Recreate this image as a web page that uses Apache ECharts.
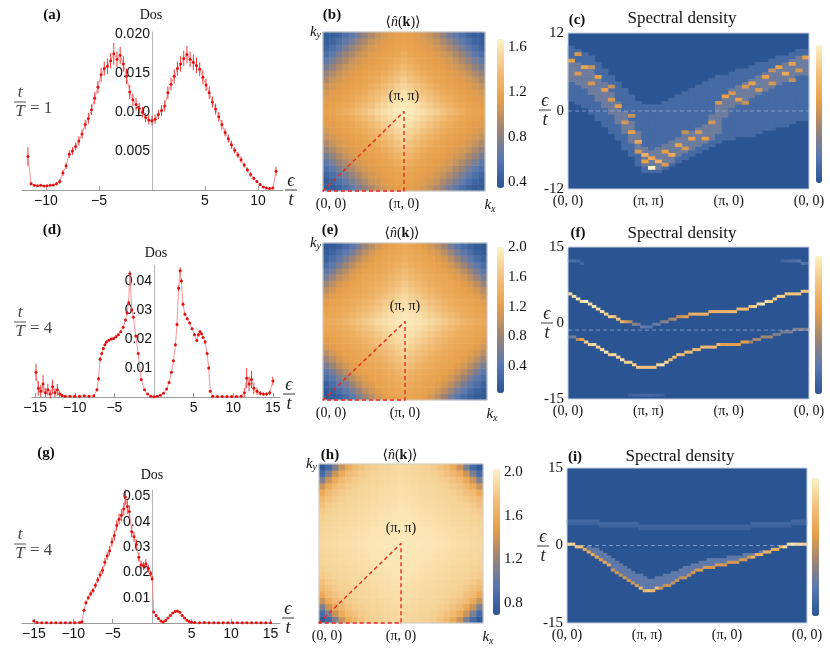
<!DOCTYPE html>
<html>
<head>
<meta charset="utf-8">
<script src="https://cdn.jsdelivr.net/npm/echarts@6/dist/echarts.min.js"></script>
<style>
html,body{margin:0;padding:0;background:#fff}
#main{width:830px;height:654px}
</style>
</head>
<body>
<div id="main"></div>
<script>
// ---------- DOS panels: [eps/t, dos, error] ----------
var dosA = [
  [-11.7,.0043,.0012],[-11.4,.0008,.0002],[-11.1,.0006,.0001],[-10.8,.00055,.0001],[-10.5,.0006,.0001],
  [-10.2,.0005,.0001],[-9.9,.00055,.0001],[-9.6,.0006,.0001],[-9.3,.00065,.0001],[-9.0,.0008,.0002],
  [-8.7,.0011,.0003],[-8.4,.0022,.0004],[-8.1,.0031,.0004],[-7.8,.0046,.0005],[-7.5,.005,.0005],
  [-7.2,.0056,.0005],[-6.9,.0063,.0006],[-6.6,.0072,.0006],[-6.3,.0084,.0006],[-6.0,.0092,.0007],
  [-5.7,.0103,.0007],[-5.4,.0118,.0008],[-5.1,.0132,.0008],[-4.8,.0148,.0009],[-4.5,.0156,.0009],
  [-4.2,.0159,.001],[-3.9,.0166,.001],[-3.6,.0175,.0014],[-3.3,.0168,.001],[-3.0,.0173,.0011],
  [-2.7,.0162,.001],[-2.4,.0146,.001],[-2.1,.0126,.0009],[-1.8,.0116,.0008],[-1.5,.011,.0008],
  [-1.2,.0105,.0007],[-0.9,.01,.0007],[-0.6,.0093,.0006],[-0.3,.009,.0006],[0,.0089,.0006],
  [0.3,.0091,.0006],[0.6,.0097,.0006],[0.9,.0102,.0007],[1.2,.0108,.0007],[1.5,.0125,.0008],
  [1.8,.0136,.0008],[2.1,.0146,.0009],[2.4,.0156,.0009],[2.7,.0162,.001],[3.0,.0169,.001],
  [3.3,.0174,.0011],[3.6,.0168,.001],[3.9,.0164,.001],[4.2,.016,.001],[4.5,.0155,.0009],
  [4.8,.0145,.0009],[5.1,.0135,.0008],[5.4,.0125,.0008],[5.7,.0113,.0007],[6.0,.0104,.0007],
  [6.3,.0094,.0006],[6.6,.0084,.0006],[6.9,.0074,.0005],[7.2,.0066,.0005],[7.5,.0058,.0005],
  [7.8,.0051,.0004],[8.1,.0045,.0004],[8.4,.0039,.0004],[8.7,.0032,.0003],[9.0,.0026,.0003],
  [9.3,.002,.0003],[9.6,.0015,.0002],[9.9,.0011,.0002],[10.2,.0007,.0002],[10.5,.0004,.0001],
  [10.8,.00025,.0001],[11.1,.0002,.0001],[11.4,.00025,.0001],[11.7,.0024,.0006]
];
var dosD = [
  [-14.9,.0085,.003],[-14.6,.003,.0025],[-14.3,.002,.002],[-14.0,.0045,.003],[-13.7,.0015,.0015],
  [-13.4,.0025,.002],[-13.1,.001,.0015],[-12.8,.0035,.0025],[-12.5,.0015,.0015],[-12.2,.0025,.002],
  [-11.9,.001,.001],[-11.6,.0005,.0005],[-11.2,.0003,.0002],[-10.6,.0003,.0001],[-10.0,.0003,.0001],
  [-9.4,.0003,.0001],[-8.8,.0004,.0001],[-8.2,.0003,.0001],[-7.6,.0004,.0002],[-7.2,.0025,.0004],
  [-7.0,.0063,.0006],[-6.8,.013,.0008],[-6.6,.015,.0006],[-6.4,.0167,.0005],[-6.2,.018,.0005],
  [-6.0,.019,.0005],[-5.7,.0196,.0004],[-5.4,.02,.0004],[-5.1,.0202,.0004],[-4.8,.0208,.0004],
  [-4.5,.0215,.0004],[-4.2,.0225,.0004],[-3.9,.024,.0005],[-3.6,.0265,.0005],[-3.4,.029,.0006],
  [-3.2,.0325,.0008],[-3.05,.0425,.001],[-2.8,.03,.0008],[-2.6,.0275,.0006],[-2.3,.021,.0005],
  [-2.0,.015,.0004],[-1.6,.006,.0003],[-1.2,.0025,.0002],[-0.8,.001,.0001],[-0.4,.0003,.0001],
  [0,.0001,.0001],[0.4,.0003,.0001],[0.8,.0006,.0001],[1.2,.0013,.0002],[1.6,.0028,.0002],
  [1.9,.005,.0003],[2.2,.0085,.0004],[2.45,.0125,.0005],[2.7,.018,.0006],[2.9,.025,.0007],
  [3.1,.0375,.001],[3.3,.0435,.0012],[3.45,.04,.001],[3.65,.032,.0008],[3.9,.0285,.0006],
  [4.2,.027,.0005],[4.5,.0255,.0005],[4.8,.0235,.0005],[5.1,.0215,.0005],[5.4,.0195,.0006],
  [5.6,.0215,.0006],[5.8,.0225,.0005],[6.0,.0218,.0005],[6.2,.0205,.0005],[6.45,.019,.0006],
  [6.7,.015,.0006],[6.9,.01,.0006],[7.1,.002,.0004],[7.4,.0003,.0001],[8.0,.0002,.0001],
  [8.6,.0002,.0001],[9.2,.0002,.0001],[9.8,.0002,.0001],[10.4,.0002,.0001],[11.0,.0003,.0002],
  [11.4,.0015,.0015],[11.7,.0065,.0035],[12.0,.0045,.0025],[12.3,.006,.003],[12.6,.003,.002],
  [13.0,.002,.0012],[13.4,.0013,.0008],[13.8,.001,.0005],[14.2,.001,.0005],[14.6,.0015,.0008],
  [15.0,.0055,.0015]
];
var dosG = [
  [-15.0,.0008,.0003],[-14.6,.0002,.0001],[-14.0,.0001,.0001],[-13.4,.0001,.0001],[-12.8,.0001,.0001],
  [-12.2,.0001,.0001],[-11.6,.0001,.0001],[-11.0,.0001,.0001],[-10.4,.0001,.0001],[-9.8,.0001,.0001],
  [-9.2,.0002,.0001],[-8.9,.0005,.0002],[-8.65,.005,.0006],[-8.4,.008,.0008],[-8.1,.01,.0008],
  [-7.8,.0115,.001],[-7.5,.0128,.001],[-7.2,.0149,.0012],[-6.9,.017,.0012],[-6.6,.019,.0014],
  [-6.3,.0208,.0014],[-6.0,.024,.0016],[-5.7,.0265,.0016],[-5.4,.0285,.0018],[-5.1,.032,.0018],
  [-4.8,.0345,.002],[-4.5,.0385,.002],[-4.2,.041,.0022],[-3.9,.0425,.0024],[-3.6,.045,.0025],
  [-3.4,.0497,.003],[-3.15,.046,.0028],[-2.9,.044,.0026],[-2.6,.036,.0022],[-2.3,.034,.002],
  [-2.0,.031,.002],[-1.7,.026,.0018],[-1.4,.023,.0016],[-1.1,.0225,.0016],[-0.8,.0234,.0018],
  [-0.5,.0215,.0016],[-0.2,.0195,.0012],[0.0,.0175,.001],[0.2,.0043,.0004],[0.5,.003,.0003],
  [0.8,.0018,.0002],[1.1,.0008,.0001],[1.4,.0004,.0001],[1.7,.001,.0001],[2.0,.002,.0002],
  [2.3,.003,.0002],[2.6,.0039,.0002],[2.9,.0045,.0002],[3.2,.0047,.0002],[3.5,.0042,.0002],
  [3.8,.003,.0002],[4.1,.002,.0001],[4.4,.0011,.0001],[4.7,.0006,.0001],[5.0,.0003,.0001],
  [5.4,.00015,.0001],[6.0,.0001,.0001],[6.6,.0002,.0001],[7.2,.0001,.0001],[7.8,.0001,.0001],
  [8.4,.0001,.0001],[9.0,.0001,.0001],[9.6,.0001,.0001],[10.2,.0001,.0001],[10.8,.0001,.0001],
  [11.4,.0001,.0001],[12.0,.0001,.0001],[12.6,.0001,.0001],[13.2,.0001,.0001],[13.8,.0001,.0001],
  [14.4,.0001,.0001],[15.0,.0001,.0001]
];

// ---------- <n(k)> : one quadrant, kx,ky = 0..pi in steps of pi/12 ----------
var nkB = [
  [0.40,0.42,0.47,0.55,0.64,0.74,0.84,0.93,1.01,1.07,1.11,1.13,1.15],
  [0.42,0.47,0.55,0.64,0.74,0.84,0.93,1.01,1.07,1.11,1.13,1.15,1.17],
  [0.47,0.55,0.64,0.74,0.84,0.93,1.01,1.07,1.11,1.13,1.15,1.17,1.20],
  [0.55,0.64,0.74,0.84,0.93,1.01,1.07,1.11,1.13,1.15,1.17,1.20,1.24],
  [0.64,0.74,0.84,0.93,1.01,1.07,1.11,1.13,1.15,1.17,1.20,1.24,1.29],
  [0.74,0.84,0.93,1.01,1.07,1.11,1.13,1.15,1.17,1.20,1.24,1.29,1.34],
  [0.84,0.93,1.01,1.07,1.11,1.13,1.15,1.17,1.20,1.24,1.29,1.34,1.40],
  [0.93,1.01,1.07,1.11,1.13,1.15,1.17,1.20,1.24,1.29,1.34,1.40,1.46],
  [1.01,1.07,1.11,1.13,1.15,1.17,1.20,1.24,1.29,1.34,1.40,1.46,1.51],
  [1.07,1.11,1.13,1.15,1.17,1.20,1.24,1.29,1.34,1.40,1.46,1.51,1.56],
  [1.11,1.13,1.15,1.17,1.20,1.24,1.29,1.34,1.40,1.46,1.51,1.56,1.60],
  [1.13,1.15,1.17,1.20,1.24,1.29,1.34,1.40,1.46,1.51,1.56,1.60,1.63],
  [1.15,1.17,1.20,1.24,1.29,1.34,1.40,1.46,1.51,1.56,1.60,1.63,1.65]
];
var nkE = [
  [0.08,0.12,0.20,0.32,0.46,0.62,0.80,0.97,1.10,1.19,1.24,1.27,1.30],
  [0.12,0.20,0.32,0.46,0.62,0.80,0.97,1.10,1.19,1.24,1.27,1.30,1.34],
  [0.20,0.32,0.46,0.62,0.80,0.97,1.10,1.19,1.24,1.27,1.30,1.34,1.39],
  [0.32,0.46,0.62,0.80,0.97,1.10,1.19,1.24,1.27,1.30,1.34,1.39,1.45],
  [0.46,0.62,0.80,0.97,1.10,1.19,1.24,1.27,1.30,1.34,1.39,1.45,1.52],
  [0.62,0.80,0.97,1.10,1.19,1.24,1.27,1.30,1.34,1.39,1.45,1.52,1.59],
  [0.80,0.97,1.10,1.19,1.24,1.27,1.30,1.34,1.39,1.45,1.52,1.59,1.66],
  [0.97,1.10,1.19,1.24,1.27,1.30,1.34,1.39,1.45,1.52,1.59,1.66,1.73],
  [1.10,1.19,1.24,1.27,1.30,1.34,1.39,1.45,1.52,1.59,1.66,1.73,1.79],
  [1.19,1.24,1.27,1.30,1.34,1.39,1.45,1.52,1.59,1.66,1.73,1.79,1.84],
  [1.24,1.27,1.30,1.34,1.39,1.45,1.52,1.59,1.66,1.73,1.79,1.84,1.88],
  [1.27,1.30,1.34,1.39,1.45,1.52,1.59,1.66,1.73,1.79,1.84,1.88,1.91],
  [1.30,1.34,1.39,1.45,1.52,1.59,1.66,1.73,1.79,1.84,1.88,1.91,1.93]
];
var nkH = [
  [0.72,0.85,1.10,1.38,1.58,1.70,1.77,1.81,1.84,1.86,1.87,1.88,1.89],
  [0.85,1.10,1.38,1.58,1.70,1.77,1.81,1.84,1.86,1.87,1.88,1.89,1.90],
  [1.10,1.38,1.58,1.70,1.77,1.81,1.84,1.86,1.87,1.88,1.89,1.90,1.91],
  [1.38,1.58,1.70,1.77,1.81,1.84,1.86,1.87,1.88,1.89,1.90,1.91,1.92],
  [1.58,1.70,1.77,1.81,1.84,1.86,1.87,1.88,1.89,1.90,1.91,1.92,1.93],
  [1.70,1.77,1.81,1.84,1.86,1.87,1.88,1.89,1.90,1.91,1.92,1.93,1.94],
  [1.77,1.81,1.84,1.86,1.87,1.88,1.89,1.90,1.91,1.92,1.93,1.94,1.95],
  [1.81,1.84,1.86,1.87,1.88,1.89,1.90,1.91,1.92,1.93,1.94,1.95,1.96],
  [1.84,1.86,1.87,1.88,1.89,1.90,1.91,1.92,1.93,1.94,1.95,1.96,1.96],
  [1.86,1.87,1.88,1.89,1.90,1.91,1.92,1.93,1.94,1.95,1.96,1.96,1.97],
  [1.87,1.88,1.89,1.90,1.91,1.92,1.93,1.94,1.95,1.96,1.96,1.97,1.97],
  [1.88,1.89,1.90,1.91,1.92,1.93,1.94,1.95,1.96,1.96,1.97,1.97,1.98],
  [1.89,1.90,1.91,1.92,1.93,1.94,1.95,1.96,1.96,1.97,1.97,1.98,1.98]
];

// ---------- spectral density (c): band edges per path column (36 cols) ----------
var cTop = [9.8,9.5,9.0,8.3,7.5,6.5,5.5,4.5,3.5,2.5,1.5,0.8,
            0.8,1.0,1.5,2.0,2.5,3.0,3.5,4.0,4.5,5.0,5.3,5.6,
            6.0,6.3,6.6,7.0,7.3,7.6,8.0,8.3,8.6,9.0,9.3,9.6];
var cBot = [1.5,1.0,0.3,-0.5,-1.5,-2.5,-3.5,-4.5,-5.8,-7.0,-8.5,-9.3,
            -9.5,-9.3,-9.0,-8.5,-8.0,-7.5,-7.0,-6.5,-6.0,-5.5,-5.0,-4.7,
            -4.4,-4.2,-4.0,-3.8,-3.5,-3.2,-3.0,-2.7,-2.4,-2.0,-1.7,-1.4];
var cCoreTop = [8.0,7.5,7.0,6.5,5.5,4.5,3.0,1.5,0.0,-1.5,-3.0,-5.5,
                -6.0,-5.5,-5.0,-4.5,-4.0,-3.5,-3.0,-2.5,-2.0,-0.5,1.0,2.5,
                3.5,4.0,4.5,5.0,5.5,6.0,6.5,7.0,7.5,8.0,8.3,8.5];
var cCoreBot = [4.5,4.0,3.5,2.5,1.5,0.5,-0.5,-2.0,-3.5,-5.0,-6.5,-8.5,
                -9.0,-8.8,-8.3,-7.8,-7.2,-6.5,-6.0,-5.5,-5.0,-4.5,-3.5,-1.0,
                0.5,1.0,1.5,2.0,2.5,3.0,3.5,4.0,4.5,5.0,5.3,5.5];
var cSpeck = [[0,7.5,.6],[1,5.5,.55],[2,6.5,.65],[3,4.0,.55],[4,5.0,.6],[5,3.0,.6],[6,1.5,.55],
  [7,0.5,.6],[8,-2.0,.55],[9,-3.5,.6],[10,-5.0,.65],[10,-6.5,.55],[11,-7.0,.7],[11,-8.0,.6],
  [12,-8.75,1.0],[12,-7.5,.65],[13,-8.0,.7],[14,-6.5,.6],[15,-7.0,.65],[16,-5.5,.6],[17,-6.0,.55],
  [18,-4.5,.6],[19,-3.5,.55],[20,-4.5,.6],[21,-2.0,.55],[22,1.0,.55],[23,2.0,.6],[24,2.5,.55],
  [25,1.5,.6],[26,3.5,.55],[27,4.0,.6],[28,3.0,.55],[29,5.0,.6],[30,4.0,.55],[31,6.5,.6],
  [32,5.5,.65],[33,7.0,.6],[34,6.0,.55],[35,8.0,.6],[1,8.5,.55],[3,6.5,.5],[6,3.5,.5],
  [9,-1.0,.5],[14,-8.5,.55],[17,-3.5,.5],[26,1.0,.5],[30,6.0,.5],[33,4.5,.5]];

// ---------- spectral density (f): two bands, 60 cols ----------
var fUp = [5.6,5.2,4.8,4.4,4.1,3.7,3.2,2.8,2.3,1.9,
           1.4,1.0,0.7,0.4,0.2,0.0,-0.2,-0.4,-0.6,-0.7,
           -0.6,-0.4,-0.2,0.0,0.3,0.6,0.8,1.0,1.2,1.3,
           1.5,1.6,1.7,1.8,1.9,2.0,2.1,2.2,2.2,2.3,
           2.3,2.4,2.5,2.6,2.7,3.0,3.3,3.6,3.9,4.1,
           4.4,4.7,5.0,5.3,5.5,5.7,5.8,5.9,6.0,6.1];
var fUpI = [0.9,0.9,0.95,0.9,1.0,0.9,0.95,0.9,0.9,0.85,
            0.85,0.8,0.8,0.7,0.55,0.45,0.35,0.3,0.25,0.2,
            0.2,0.22,0.25,0.3,0.35,0.4,0.45,0.5,0.55,0.6,
            0.65,0.7,0.7,0.7,0.7,0.7,0.72,0.72,0.72,0.72,
            0.75,0.75,0.75,0.75,0.75,0.8,0.85,0.9,0.95,0.9,
            0.85,0.85,0.85,0.85,0.8,0.8,0.8,0.8,0.8,0.8];
var fLo = [-2.7,-3.0,-3.2,-3.4,-3.8,-4.2,-4.5,-4.9,-5.3,-5.7,
           -6.1,-6.5,-6.9,-7.3,-7.7,-8.0,-8.3,-8.6,-8.75,-8.85,
           -8.9,-8.7,-8.5,-8.2,-7.8,-7.3,-6.9,-6.5,-6.2,-5.9,
           -5.6,-5.3,-5.1,-4.9,-4.8,-4.7,-4.6,-4.5,-4.5,-4.4,
           -4.3,-4.2,-4.1,-4.0,-3.8,-3.6,-3.4,-3.2,-3.0,-2.8,
           -2.6,-2.4,-2.2,-2.0,-1.8,-1.6,-1.4,-1.3,-1.2,-1.1];
var fLoI = [0.2,0.3,0.45,0.6,0.85,0.85,0.9,0.85,0.9,0.95,
            0.85,0.9,0.85,0.9,0.85,0.85,0.85,0.8,0.8,0.8,
            0.8,0.8,0.85,0.95,0.85,0.75,0.75,0.8,0.75,0.75,
            0.75,0.75,0.75,0.75,0.75,0.75,0.75,0.75,0.6,0.6,
            0.6,0.6,0.6,0.6,0.6,0.4,0.4,0.4,0.4,0.4,
            0.4,0.3,0.3,0.3,0.3,0.3,0.3,0.3,0.3,0.3];
var fExtra = [[0,12.2,.15],[1,12.0,.15],[2,12.0,.12],[3,11.8,.1],[53,12.4,.1],[54,12.2,.12],
  [55,12.2,.15],[56,12.0,.15],[57,12.0,.18],[58,11.8,.18],[59,11.8,.15],[15,-14.3,.08],
  [16,-14.3,.1],[17,-14.3,.1],[18,-14.3,.12],[19,-14.3,.12],[20,-14.3,.12],[21,-14.3,.1],
  [22,-14.3,.1],[23,-14.3,.08]];

// ---------- spectral density (i): one band + diffuse shoulder, 60 cols ----------
var iBand = [0.2,0.1,-0.1,-0.4,-0.8,-1.2,-1.7,-2.2,-2.7,-3.3,
             -3.9,-4.6,-5.3,-5.9,-6.4,-6.9,-7.4,-7.9,-8.3,-8.6,
             -8.75,-8.7,-8.5,-8.2,-7.9,-7.6,-7.2,-6.9,-6.5,-6.1,
             -5.7,-5.3,-5.0,-4.8,-4.5,-4.3,-4.1,-3.95,-3.8,-3.65,
             -3.5,-3.3,-3.1,-2.9,-2.6,-2.4,-2.2,-1.9,-1.7,-1.5,
             -1.2,-1.0,-0.8,-0.5,-0.2,0.0,0.1,0.2,0.3,0.4];
var iBandI = [0.85,0.85,0.8,0.8,0.65,0.65,0.65,0.65,0.6,0.65,
              0.65,0.55,0.55,0.5,0.55,0.55,0.55,0.55,0.75,0.75,
              0.8,0.75,0.75,0.5,0.5,0.5,0.5,0.5,0.5,0.5,
              0.5,0.55,0.55,0.55,0.55,0.55,0.55,0.55,0.55,0.55,
              0.55,0.55,0.55,0.55,0.55,0.55,0.7,0.7,0.7,0.7,
              0.7,0.7,0.7,0.7,0.9,0.9,0.95,0.9,0.9,0.85];
var iFuzzTop = [0.2,0.1,-0.1,-0.4,-0.8,-0.5,-0.7,-1.0,-1.3,-1.7,
                -2.1,-2.6,-3.1,-3.6,-4.1,-4.6,-5.1,-5.6,-6.0,-6.4,
                -6.6,-6.6,-6.5,-6.3,-6.0,-5.7,-5.4,-5.1,-4.8,-4.5,
                -4.2,-3.9,-3.6,-3.4,-3.2,-3.0,-2.9,-2.8,-2.7,-2.6,
                -2.5,-2.4,-2.3,-2.2,-2.0,-1.9,-1.8,-1.6,-1.5,-1.4,
                -1.2,-1.0,-0.8,-0.5,-0.2,0.0,0.1,0.2,0.3,0.4];
var iFaint = [4.8,4.8,4.7,4.7,4.6,4.6,4.5,4.5,4.4,4.4,
              4.3,4.3,4.2,4.2,4.1,4.1,4.0,4.0,3.9,3.9,
              3.8,3.8,3.7,3.7,3.6,3.6,3.5,3.5,3.5,3.5,
              3.5,3.5,3.5,3.5,3.5,3.5,3.5,3.6,3.6,3.6,
              3.7,3.7,3.8,3.8,3.9,3.9,4.0,4.0,4.1,4.1,
              4.2,4.2,4.3,4.3,4.4,4.4,4.5,4.5,4.6,4.6];

var pathLabels = ['(0, 0)', '(π, π)', '(π, 0)', '(0, 0)'];
var palette = ['#2b5592', '#5878b0', '#a08572', '#e8a04a', '#f2c27e', '#fdf2c6'];

// ---------- build ----------
var SERIF = '"Liberation Serif","DejaVu Serif",serif';
var SANS = '"Liberation Sans",Arial,sans-serif';
var grids = [], xAxes = [], yAxes = [], series = [], visualMaps = [], graphics = [];

function minus(v) { return v < 0 ? '\u2212' + (-v) : String(v); }
function range(n) { var a = []; for (var k = 0; k < n; k++) a.push(k); return a; }

function addDos(rect, pts, xr, ymax, xTicks, yTicks, dec) {
  var g = grids.length;
  // the vertical axis sits at eps = 0, inside the plot
  var zeroOffset = rect[2] * (0 - xr[0]) / (xr[1] - xr[0]);
  grids.push({left: rect[0], top: rect[1], width: rect[2], height: rect[3]});
  xAxes.push({type: 'value', gridIndex: g, min: xr[0], max: xr[1],
    axisLine: {onZero: false, lineStyle: {color: '#9a9a9a'}},
    axisTick: {customValues: xTicks, inside: true, length: 4, lineStyle: {color: '#9a9a9a'}},
    axisLabel: {customValues: xTicks, formatter: minus, fontFamily: SANS, fontSize: 14, color: '#111', margin: 4},
    splitLine: {show: false}});
  yAxes.push({type: 'value', gridIndex: g, min: 0, max: ymax, position: 'left', offset: -zeroOffset,
    axisLine: {onZero: false, lineStyle: {color: '#b4b4b4'}},
    axisTick: {show: false},
    axisLabel: {customValues: yTicks, formatter: function (v) { return v.toFixed(dec); },
      fontFamily: SANS, fontSize: 14, color: '#111', margin: 2},
    splitLine: {show: false}});
  series.push({type: 'custom', xAxisIndex: g, yAxisIndex: g, data: pts, encode: {x: 0, y: 1},
    silent: true, z: 2, clip: false,
    renderItem: function (params, api) {
      var x = api.value(0), y = api.value(1), e = api.value(2);
      var a = api.coord([x, y - e]), b = api.coord([x, y + e]);
      return {type: 'line', shape: {x1: a[0], y1: a[1], x2: b[0], y2: b[1]},
        style: {stroke: 'rgba(232,20,20,0.85)', lineWidth: 1}};
    }});
  series.push({type: 'line', xAxisIndex: g, yAxisIndex: g, silent: true, z: 3,
    data: pts.map(function (p) { return [p[0], p[1]]; }),
    symbol: 'circle', symbolSize: 3, itemStyle: {color: '#e41010'},
    lineStyle: {color: '#f47a7a', width: 0.8}});
}

function addNk(rect, quad, vr, cb, cbTicks) {
  var n = quad.length, N = 2 * n - 1;
  var g = grids.length;
  grids.push({left: rect[0], top: rect[1], width: rect[2], height: rect[3]});
  xAxes.push({type: 'category', gridIndex: g, data: range(N), show: false});
  yAxes.push({type: 'category', gridIndex: g, data: range(N), show: false});
  var cells = [];
  for (var i = 0; i < N; i++) for (var j = 0; j < N; j++)
    cells.push([j, i, quad[Math.min(i, N - 1 - i)][Math.min(j, N - 1 - j)]]);
  visualMaps.push({type: 'continuous', seriesIndex: series.length, min: vr[0], max: vr[1],
    left: cb[0], top: cb[1], itemWidth: cb[2], itemHeight: cb[3], padding: 0,
    calculable: false, hoverLink: false, inRange: {color: palette}});
  series.push({type: 'heatmap', xAxisIndex: g, yAxisIndex: g, data: cells, silent: true,
    itemStyle: {borderWidth: 0}, emphasis: {disabled: true}});

  var g2 = grids.length;
  grids.push({left: rect[0], top: rect[1], width: rect[2], height: rect[3], show: true, z: 10,
    borderColor: '#cfcfcf', borderWidth: 1, backgroundColor: 'transparent'});
  var rich = {
    o: {fontFamily: SERIF, fontSize: 14, color: '#111', padding: [0, 0, 0, 16]},
    p: {fontFamily: SERIF, fontSize: 14, color: '#111'},
    k: {fontFamily: SERIF, fontSize: 15, fontStyle: 'italic', color: '#111'},
    s: {fontFamily: SERIF, fontSize: 10, fontStyle: 'italic', color: '#111', verticalAlign: 'bottom', padding: [7, 0, 0, 0]},
    kk: {fontFamily: SERIF, fontSize: 15, fontStyle: 'italic', color: '#111', padding: [0, 0, 0, 10]}
  };
  xAxes.push({type: 'value', gridIndex: g2, min: 0, max: 2,
    axisLine: {show: false}, axisTick: {show: false}, splitLine: {show: false},
    axisLabel: {customValues: [0, 1, 2], margin: 6, rich: rich,
      formatter: function (v) { return v === 0 ? '{o|(0, 0)}' : v === 1 ? '{p|(π, 0)}' : '{kk|k}{s|x}'; }}});
  yAxes.push({type: 'value', gridIndex: g2, min: 0, max: 2,
    axisLine: {show: false}, axisTick: {show: false}, splitLine: {show: false},
    axisLabel: {customValues: [2], margin: 2, rich: rich,
      formatter: function () { return '{k|k}{s|y}'; }}});
  series.push({type: 'line', xAxisIndex: g2, yAxisIndex: g2, silent: true, z: 20, clip: false,
    symbol: 'circle', symbolSize: 1, itemStyle: {color: '#e8281e'},
    lineStyle: {color: '#e8281e', width: 1.4, type: [4, 3]},
    data: [[0, 0], {value: [1, 1], label: {show: true, formatter: '(π, π)', position: 'top', distance: 8,
      fontFamily: SERIF, fontSize: 14, color: '#111'}}, [1, 0], [0, 0]]});

  var g3 = grids.length;
  grids.push({left: cb[0], top: cb[1], width: cb[2], height: cb[3]});
  xAxes.push({type: 'value', gridIndex: g3, show: false});
  yAxes.push({type: 'value', gridIndex: g3, min: vr[0], max: vr[1], position: 'right',
    axisLine: {show: false}, axisTick: {show: false}, splitLine: {show: false},
    axisLabel: {customValues: cbTicks, formatter: function (v) { return v.toFixed(1); },
      fontFamily: SERIF, fontSize: 15, color: '#111', margin: 4}});
}

function addSpec(rect, nCols, nRows, er, cells, cb, eTicks, zeroE) {
  var g = grids.length;
  grids.push({left: rect[0], top: rect[1], width: rect[2], height: rect[3], show: true,
    backgroundColor: palette[0], borderWidth: 0});
  xAxes.push({type: 'category', gridIndex: g, data: range(nCols), show: false});
  yAxes.push({type: 'category', gridIndex: g, data: range(nRows), show: false});
  visualMaps.push({type: 'continuous', seriesIndex: series.length, min: 0, max: 1,
    left: cb[0], top: cb[1], itemWidth: cb[2], itemHeight: cb[3], padding: 0,
    calculable: false, hoverLink: false, inRange: {color: palette}});
  series.push({type: 'heatmap', xAxisIndex: g, yAxisIndex: g, data: cells, silent: true,
    itemStyle: {borderWidth: 0}, emphasis: {disabled: true}});

  var g2 = grids.length;
  grids.push({left: rect[0], top: rect[1], width: rect[2], height: rect[3], show: true, z: 10,
    borderColor: '#c5d0e2', borderWidth: 1, backgroundColor: 'transparent'});
  xAxes.push({type: 'value', gridIndex: g2, min: 0, max: 3,
    axisLine: {show: false}, axisTick: {show: false}, splitLine: {show: false},
    axisLabel: {customValues: [0, 1, 2, 3], formatter: function (v) { return pathLabels[v]; },
      fontFamily: SERIF, fontSize: 14, color: '#111', margin: 5}});
  yAxes.push({type: 'value', gridIndex: g2, min: er[0], max: er[1],
    axisLine: {show: false}, axisTick: {show: false}, splitLine: {show: false},
    axisLabel: {customValues: eTicks, formatter: function (v) { return String(v); },
      fontFamily: SERIF, fontSize: 15, color: '#111', margin: 4}});
  series.push({type: 'line', xAxisIndex: g2, yAxisIndex: g2, silent: true, z: 20, symbol: 'none',
    lineStyle: {color: 'rgba(190,205,235,0.55)', width: 1, type: [4, 3]},
    data: [[0, zeroE], [3, zeroE]]});
}

function rowOf(e, er, nRows) {
  var r = Math.floor((e - er[0]) / (er[1] - er[0]) * nRows);
  return Math.max(0, Math.min(nRows - 1, r));
}

// cells for (c)
var cER = [-12, 12], cRows = 48, cCells = [];
for (var c = 0; c < cTop.length; c++) {
  for (var r = 0; r < cRows; r++) {
    var e = cER[0] + (r + 0.5) * (cER[1] - cER[0]) / cRows;
    if (e <= cTop[c] && e >= cBot[c]) {
      var core = e <= cCoreTop[c] && e >= cCoreBot[c];
      cCells.push([c, r, core ? 0.26 : 0.12]);
    }
  }
}
cSpeck.forEach(function (s) { cCells.push([s[0], rowOf(s[1], cER, cRows), s[2]]); });

// cells for (f)
var fER = [-15, 15], fRows = 60, fCells = [];
fExtra.forEach(function (s) { fCells.push([s[0], rowOf(s[1], fER, fRows), s[2]]); });
for (var c2 = 0; c2 < fUp.length; c2++) {
  fCells.push([c2, rowOf(fUp[c2], fER, fRows), fUpI[c2]]);
  fCells.push([c2, rowOf(fLo[c2], fER, fRows), fLoI[c2]]);
}

// cells for (i)
var iER = [-15, 15], iRows = 60, iCells = [];
for (var c3 = 0; c3 < iBand.length; c3++) {
  var rf = rowOf(iFaint[c3], iER, iRows);
  iCells.push([c3, rf, 0.1], [c3, rf - 1, 0.08]);
  var rb = rowOf(iBand[c3], iER, iRows), rt = rowOf(iFuzzTop[c3], iER, iRows);
  for (var rr = rb + 1; rr <= rt; rr++) iCells.push([c3, rr, 0.22]);
  iCells.push([c3, rb, iBandI[c3]]);
}

addDos([22, 32, 261, 158], dosA, [-12.26, 12.36], 0.0203, [-10, -5, 5, 10], [0.005, 0.010, 0.015, 0.020], 3);
addDos([32, 265, 248, 132], dosD, [-15.4, 15.9], 0.0455, [-15, -10, -5, 5, 10, 15], [0.01, 0.02, 0.03, 0.04], 2);
addDos([22, 490, 258, 133], dosG, [-16.5, 16.2], 0.0525, [-15, -10, -5, 5, 10, 15], [0.01, 0.02, 0.03, 0.04, 0.05], 2);

addNk([323, 32, 162, 159], nkB, [0.35, 1.67], [497, 39, 7, 149], [0.4, 0.8, 1.2, 1.6]);
addNk([323, 243, 164, 157], nkE, [0.04, 2.0], [497, 247, 7, 146], [0.4, 0.8, 1.2, 1.6, 2.0]);
addNk([319, 464, 164, 159], nkH, [0.69, 2.03], [493, 469, 7, 146], [0.8, 1.2, 1.6, 2.0]);

addSpec([568, 33, 241, 156], cTop.length, cRows, cER, cCells, [816, 45, 6, 138], [-12, 0, 12], 0);
addSpec([568, 247, 241, 152], fUp.length, fRows, fER, fCells, [815, 256, 7, 138], [-15, 0, 15], -1.4);
addSpec([567, 468, 240, 155], iBand.length, iRows, iER, iCells, [812, 478, 7, 138], [-15, 0, 15], 0);

// ---------- free text ----------
function txt(x, y, text, font, extra) {
  var st = {text: text, font: font, fill: '#111', textAlign: 'center', textVerticalAlign: 'middle',
    align: 'center', verticalAlign: 'middle'};
  if (extra) for (var k in extra) st[k] = extra[k];
  graphics.push({type: 'text', x: x, y: y, style: st, silent: true});
}
function frac(cx, by, num, den, size, color, tail) {
  var f = 'italic ' + size + 'px ' + SERIF;
  txt(cx, by - 9, num, f, {fill: color});
  graphics.push({type: 'line', silent: true, shape: {x1: cx - 6, y1: by, x2: cx + 6, y2: by},
    style: {stroke: color, lineWidth: 0.9}});
  txt(cx, by + 10, den, f, {fill: color});
  if (tail) txt(cx + 10, by + 7, tail, size + 'px ' + SERIF,
    {fill: color, textAlign: 'left', align: 'left'});
}

var B = 'bold 15px ' + SERIF;
[['(a)', 52, 15], ['(d)', 52, 230], ['(g)', 46, 453], ['(b)', 332, 15], ['(e)', 330, 230],
 ['(h)', 330, 455], ['(c)', 577, 20], ['(f)', 578, 233], ['(i)', 575, 457]].forEach(function (l) {
  txt(l[1], l[2], l[0], B);
});
[[151, 15], [156, 253], [152, 475]].forEach(function (p) { txt(p[0], p[1], 'Dos', '14px ' + SERIF); });
[[682, 19], [682, 234], [680, 457]].forEach(function (p) { txt(p[0], p[1], 'Spectral density', '17px ' + SERIF); });
var nkRich = {
  a: {fontFamily: SERIF, fontSize: 14, fill: '#111'},
  n: {fontFamily: SERIF, fontSize: 14, fontStyle: 'italic', fill: '#111'},
  b: {fontFamily: SERIF, fontSize: 14, fontWeight: 'bold', fill: '#111'}
};
[[403, 22], [402, 233], [400, 455]].forEach(function (p) {
  txt(p[0], p[1], '{a|⟨}{n|n\u0302}{a|(}{b|k}{a|)⟩}', '14px ' + SERIF, {rich: nkRich});
});
frac(20, 102, 't', 'T', 17, '#444', '= 1');
frac(20, 322, 't', 'T', 17, '#444', '= 4');
frac(20, 544, 't', 'T', 17, '#444', '= 4');
frac(291, 190, '\u03F5', 't', 18, '#222');
frac(289, 394, '\u03F5', 't', 18, '#222');
frac(288, 618, '\u03F5', 't', 18, '#222');
frac(545, 110, '\u03F5', 't', 18, '#222');
frac(547, 323, '\u03F5', 't', 18, '#222');
frac(543, 546, '\u03F5', 't', 18, '#222');

var chart = echarts.init(document.getElementById('main'));
chart.setOption({
  animation: false,
  backgroundColor: '#fff',
  grid: grids,
  xAxis: xAxes,
  yAxis: yAxes,
  visualMap: visualMaps,
  series: series,
  graphic: {elements: graphics}
});
</script>
</body>
</html>
